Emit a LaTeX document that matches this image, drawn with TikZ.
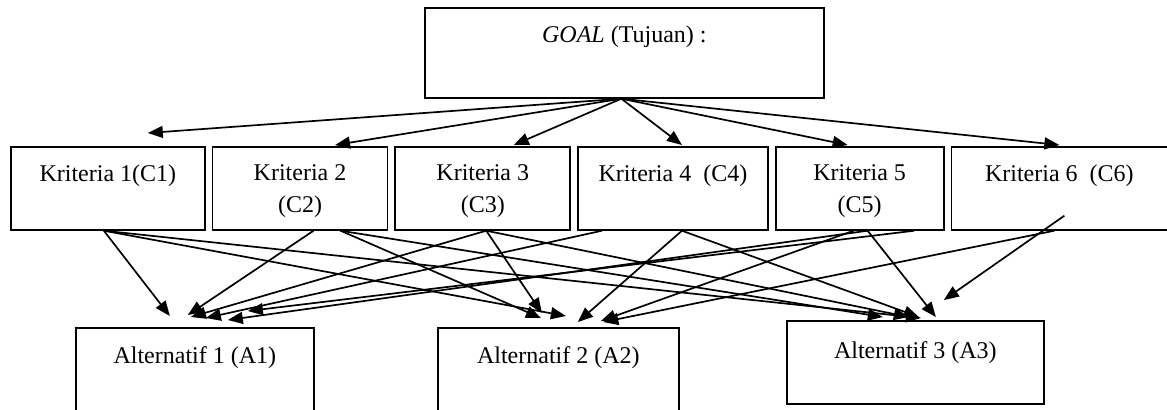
\documentclass[tikz,border=0pt]{standalone}
\usepackage{fontspec}
\setmainfont{Liberation Serif}
\usetikzlibrary{
  arrows.meta,
  calc,
  positioning,
}
\tikzstyle{arrow} = [
  -{Triangle[length=7.5pt,width=6pt]},
  line width=0.85pt,
]

\begin{document}
\begin{tikzpicture}[x=0.5pt, y=-0.5pt,
    font=\fontsize{12}{16}\selectfont,
    box/.style={draw, line width=0.85pt, anchor=north west, inner sep=0pt},
    crit/.style={box, minimum height=41.5pt, node distance=3pt},
    txt/.style={anchor=north, inner sep=0pt, align=center, yshift=#1},
    txt/.default=-9.2pt]
    \useasboundingbox (0,0) rectangle (1167,409);
    \clip (0,0) rectangle (1167,409);
    \node [box, minimum width=199.5pt, minimum height=45pt,
           label={[txt=-9.2pt]north:{\textit{GOAL} (Tujuan) :}}]
          (goal) at (424,7) {};
    \node [crit, minimum width=97pt,
           label={[txt]north:{Kriteria 1(C1)}}] (c1) at (10,146) {};
    \node [crit, minimum width=87.5pt, right=of c1,
           label={[txt]north:{Kriteria 2\\(C2)}}] (c2) {};
    \node [crit, minimum width=87.5pt, right=of c2,
           label={[txt]north:{Kriteria 3\\(C3)}}] (c3) {};
    \node [crit, minimum width=95pt, right=of c3,
           label={[txt]north:{Kriteria 4\ \ (C4)}}] (c4) {};
    \node [crit, minimum width=84pt, right=of c4,
           label={[txt]north:{Kriteria 5\\(C5)}}] (c5) {};
    \node [crit, minimum width=108pt, right=of c5,
           label={[txt]north:{Kriteria 6\ \ (C6)}}] (c6) {};
    \node [box, minimum width=119pt, minimum height=50pt,
           label={[txt=-9.6pt]north:{Alternatif 1 (A1)}}] (a1) at (75,327) {};
    \node [box, minimum width=120.5pt, minimum height=50pt,
           label={[txt=-9.6pt]north:{Alternatif 2 (A2)}}] (a2) at (437,327) {};
    \node [box, minimum width=128.5pt, minimum height=41.5pt,
           label={[txt=-10.4pt]north:{Alternatif 3 (A3)}}] (a3) at (786,320) {};
    % goal to criteria
    \draw [arrow] ($(goal.south)+(-3,0)$) -- ($(c1.north)+(40,-13)$);
    \draw [arrow] ($(goal.south)+(-3,0)$) -- ($(c2.north)+(35,-1)$);
    \draw [arrow] ($(goal.south)+(-3,0)$) -- ($(c3.north)+(31,-1)$);
    \draw [arrow] ($(goal.south)+(-3,0)$) -- ($(c4.north)+(9,-1)$);
    \draw [arrow] ($(goal.south)+(-3,0)$) -- ($(c5.north)+(-12,-1)$);
    \draw [arrow] ($(goal.south)+(-3,0)$) -- ($(c6.north)+(0,-1)$);
    % criteria to alternatives
    \draw [arrow] ($(c1.south)+(-4,0)$) -- ($(a1.north)+(-25,-11)$);
    \draw [arrow] ($(c1.south)+(-4,0)$) -- ($(a2.north)+(7.5,-11)$);
    \draw [arrow] ($(c1.south)+(-4,0)$) -- ($(a3.north)+(5.5,-2)$);
    \draw [arrow] ($(c2.south)+(13.5,0)$) -- ($(a1.north)+(-7,-12)$);
    \draw [arrow] ($(c2.south)+(40.5,0)$) -- ($(a2.north)+(-17.5,-9)$);
    \draw [arrow] ($(c2.south)+(40.5,0)$) -- ($(a3.north)+(-32.5,-3)$);
    \draw [arrow] ($(c3.south)+(3.5,0)$) -- ($(a1.north)+(-4,-10)$);
    \draw [arrow] ($(c3.south)+(3.5,0)$) -- ($(a2.north)+(-16.5,-14)$);
    \draw [arrow] ($(c3.south)+(3.5,0)$) -- ($(a3.north)+(-6.5,-3)$);
    \draw [arrow] ($(c4.south)+(-71,0)$) -- ($(a1.north)+(11,-9)$);
    \draw [arrow] ($(c4.south)+(9,0)$) -- ($(a2.north)+(19.5,-5)$);
    \draw [arrow] ($(c4.south)+(9,0)$) -- ($(a3.north)+(3.5,-3)$);
    \draw [arrow] ($(c5.south)+(8,0)$) -- ($(a1.north)+(33,-7)$);
    \draw [arrow] ($(c5.south)+(-6,0)$) -- ($(a2.north)+(42.5,-6)$);
    \draw [arrow] ($(c5.south)+(8,0)$) -- ($(a3.north)+(20.5,-3)$);
    \draw [arrow] ($(c6.south)+(-145,0)$) -- ($(a1.north)+(53,-16)$);
    \draw [arrow] ($(c6.south)+(-5,0)$) -- ($(a2.north)+(45,-5)$);
    \draw [arrow] ($(c6.south)+(5,-15)$) -- ($(a3.north)+(28.5,-20)$);
  \end{tikzpicture}
\end{document}
